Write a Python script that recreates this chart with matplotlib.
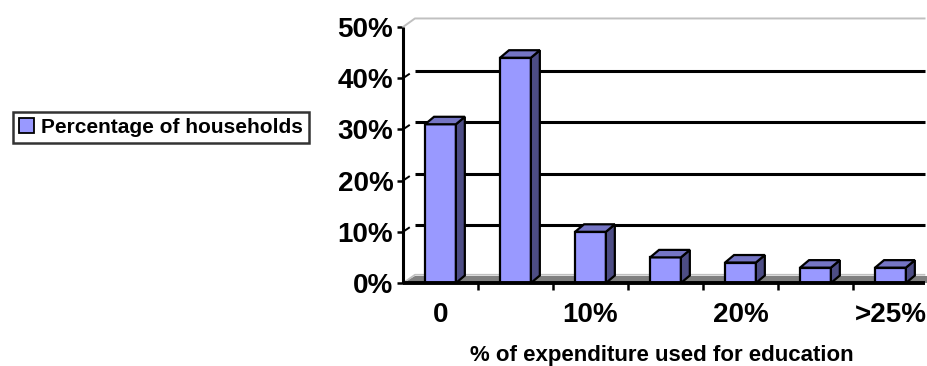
import matplotlib
matplotlib.use("Agg")
import matplotlib.pyplot as plt
from matplotlib.patches import Polygon

plt.rcParams['font.family'] = ['Liberation Sans', 'DejaVu Sans']
plt.rcParams['font.weight'] = 'bold'

# Share of households by share of spending that goes to education
categories = ["0", "", "10%", "", "20%", "", ">25%"]
households_pct = [31, 44, 10, 5, 4, 3, 3]
y_ticks = [0, 10, 20, 30, 40, 50]
y_tick_labels = ["0%", "10%", "20%", "30%", "40%", "50%"]
series_name = "Percentage of households"
x_title = "% of expenditure used for education"

FRONT = "#9999FF"
TOP = "#7575C4"
SIDE = "#4D4D85"
FLOOR = "#808080"
WALL_EDGE = "#C0C0C0"

W, H, DPI = 928, 366, 100
fig = plt.figure(figsize=(W / DPI, H / DPI), dpi=DPI)
fig.patch.set_facecolor("white")

# plot area in pixels
ax_left, ax_right = 403, 928
ax_bottom, ax_top = 283, 27
cat_px = 75.5
ax = fig.add_axes([ax_left / W, (H - ax_bottom) / H,
                   (ax_right - ax_left) / W, (ax_bottom - ax_top) / H])
x_min = -0.5
x_max = x_min + (ax_right - ax_left) / cat_px
ax.set_xlim(x_min, x_max)
ax.set_ylim(0, 50)
pct_px = (ax_bottom - ax_top) / 50.0

# 3D depth offsets converted to data units
bar_dx, bar_dy = 9 / cat_px, 7.5 / pct_px
wall_dx, wall_dy = 12 / cat_px, 7 / pct_px
bar_w = 31 / cat_px
edge_lw = 1.6

for s in ax.spines.values():
    s.set_visible(False)
ax.set_facecolor("none")

# floor
ax.add_patch(Polygon([(x_min, 0), (x_min + wall_dx, wall_dy), (x_max + 1, wall_dy),
                      (x_max + 1, 0)], closed=True, facecolor=FLOOR,
                     edgecolor="none", zorder=1, clip_on=True))
ax.plot([x_min + 0.01, x_min + wall_dx, x_max], [0.1, wall_dy + 0.25, wall_dy + 0.25],
        color=WALL_EDGE, lw=1.2, zorder=1.5)

# back-wall gridlines with their diagonal connectors
for yv in y_ticks[1:-1]:
    ax.plot([x_min + wall_dx, x_max], [yv + wall_dy, yv + wall_dy],
            color="black", lw=2.2, zorder=2, clip_on=False, solid_capstyle="butt")
    ax.plot([x_min, x_min + 6 / cat_px], [yv, yv + 4 / pct_px],
            color="black", lw=1.4, zorder=2, clip_on=False)
# top edge of back wall
top_y = y_ticks[-1]
ax.plot([x_min, x_min + wall_dx, x_max], [top_y, top_y + wall_dy + 0.3, top_y + wall_dy + 0.3],
        color=WALL_EDGE, lw=1.4, zorder=2, clip_on=False)

# bars: front faces through the axes, then side and top faces from the same values
xs = list(range(len(households_pct)))
ax.bar(xs, households_pct, width=bar_w, color=FRONT, edgecolor="black",
       linewidth=edge_lw, zorder=4, label=series_name)
for x, v in zip(xs, households_pct):
    r = x + bar_w / 2
    l = x - bar_w / 2
    ax.add_patch(Polygon([(r, 0), (r + bar_dx, bar_dy), (r + bar_dx, v + bar_dy), (r, v)],
                         closed=True, facecolor=SIDE, edgecolor="black", lw=edge_lw,
                         zorder=4, joinstyle="miter"))
    ax.add_patch(Polygon([(l, v), (l + bar_dx, v + bar_dy), (r + bar_dx, v + bar_dy), (r, v)],
                         closed=True, facecolor=TOP, edgecolor="black", lw=edge_lw,
                         zorder=4, joinstyle="miter"))

# axis lines
ax.plot([x_min, x_min], [0, 50], color="black", lw=2.2, zorder=6, clip_on=False,
        solid_capstyle="butt")
ax.plot([x_min, x_max], [0, 0], color="black", lw=2.8, zorder=6, clip_on=False,
        solid_capstyle="butt")

# y ticks
ax.set_yticks(y_ticks)
ax.set_yticklabels(y_tick_labels, fontsize=20, fontweight="bold")
ax.tick_params(axis="y", direction="out", length=4, width=1.8, pad=3)

# x ticks: boundaries get marks, category centres get labels
ax.set_xticks(xs)
ax.set_xticklabels(categories, fontsize=20, fontweight="bold")
ax.set_xticks([x_min + k for k in range(1, len(xs) + 1)], minor=True)
ax.tick_params(axis="x", which="major", length=0, pad=14)
ax.tick_params(axis="x", which="minor", direction="out", length=5, width=1.8)

fig.text(662 / W, 1 - 355 / H, x_title, ha="center", va="center",
         fontsize=16, fontweight="bold")

handle = plt.Rectangle((0, 0), 1, 1, facecolor=FRONT, edgecolor="black", lw=1.3)
leg = fig.legend([handle], [series_name], loc="center",
                 bbox_to_anchor=(161 / W, 1 - 127.5 / H), fontsize=15,
                 frameon=True, fancybox=False, handlelength=0.7, handleheight=0.7,
                 handletextpad=0.35, borderpad=0.3, borderaxespad=0)
leg.get_frame().set_edgecolor("black")
leg.get_frame().set_linewidth(1.8)
for t in leg.get_texts():
    t.set_fontweight("bold")

fig.savefig("out.png", dpi=DPI, facecolor="white")
